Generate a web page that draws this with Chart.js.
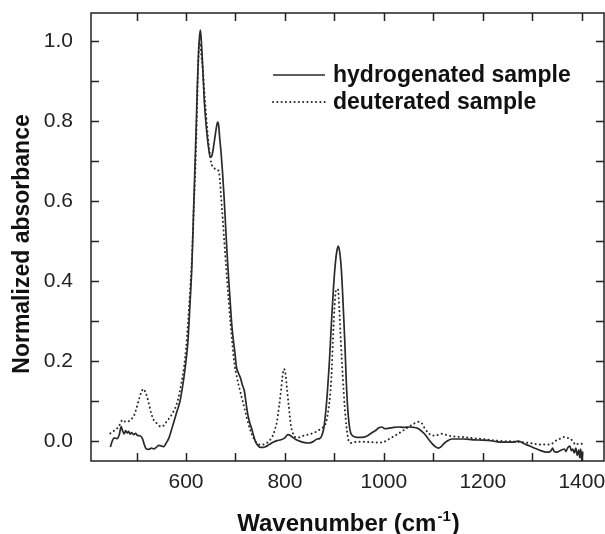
<!DOCTYPE html>
<html>
<head>
<meta charset="utf-8">
<script src="https://cdn.jsdelivr.net/npm/chart.js@4/dist/chart.umd.min.js"></script>
<style>
  body { margin: 0; background: #fff; }
  #wrap { width: 605px; height: 534px; }
</style>
</head>
<body>
<div id="wrap"><canvas id="irChart" width="605" height="534"></canvas></div>
<script>
// IR absorbance spectra, hydrogenated vs deuterated
const hydWavenumber = [447,451,455,460,465,469,472,475,478,481,484,487,490,494,498,502,507,512,516,520,525,530,535,540,545,550,555,560,565,570,576,582,588,592,596,600,604,608,612,615,618,621,623,625,627,629,631,634,637,640,643,646,649,652,655,658,661,664,666,668,671,674,677,680,683,686,689,692,695,699,702,706,710,714,718,722,725,729,733,737,741,746,751,756,761,768,776,784,792,800,806,811,816,822,831,840,847,853,859,865,870,875,879,883,886,890,894,898,902,905,908,911,914,917,921,924,927,930,933,938,945,955,965,975,984,990,996,1002,1010,1020,1030,1040,1051,1060,1068,1075,1082,1090,1098,1104,1110,1116,1121,1128,1137,1150,1161,1180,1200,1220,1239,1255,1266,1272,1278,1286,1294,1305,1317,1325,1333,1338,1341,1344,1349,1355,1360,1365,1368,1372,1376,1379,1382,1385,1388,1391,1394,1396,1398,1400,1402];
const hydAbsorbance = [-0.015,0.0,0.008,0.006,0.015,0.036,0.025,0.018,0.026,0.02,0.024,0.017,0.021,0.016,0.019,0.014,0.013,0.006,-0.01,-0.02,-0.021,-0.018,-0.02,-0.016,-0.011,-0.012,-0.014,-0.005,0.006,0.025,0.05,0.075,0.1,0.128,0.16,0.2,0.25,0.34,0.44,0.56,0.68,0.8,0.89,0.96,1.005,1.027,1.0,0.93,0.85,0.8,0.76,0.73,0.71,0.712,0.73,0.755,0.78,0.797,0.79,0.76,0.72,0.67,0.61,0.54,0.47,0.41,0.355,0.3,0.26,0.22,0.185,0.17,0.158,0.14,0.125,0.09,0.066,0.045,0.03,0.012,-0.003,-0.012,-0.016,-0.016,-0.014,-0.009,-0.003,0.001,0.003,0.008,0.016,0.014,0.009,0.004,-0.001,-0.004,-0.005,-0.004,0.0,0.005,0.006,0.015,0.035,0.08,0.125,0.2,0.295,0.38,0.445,0.475,0.487,0.47,0.43,0.36,0.25,0.15,0.08,0.04,0.02,0.012,0.009,0.009,0.012,0.02,0.027,0.033,0.035,0.031,0.032,0.034,0.035,0.034,0.035,0.034,0.032,0.026,0.018,0.005,-0.007,-0.014,-0.018,-0.014,-0.007,0.0,0.005,0.005,0.005,0.003,0.002,0.0,-0.003,-0.003,-0.002,0.0,-0.003,-0.008,-0.012,-0.018,-0.024,-0.027,-0.028,-0.024,-0.018,-0.026,-0.028,-0.025,-0.022,-0.02,-0.026,-0.016,-0.013,-0.024,-0.02,-0.03,-0.018,-0.036,-0.022,-0.042,-0.02,-0.048,-0.026];

const deutWavenumber = [447,455,462,468,471,476,482,488,494,499,504,509,514,518,522,526,530,535,541,547,551,556,561,567,573,579,584,590,596,600,604,608,612,616,620,623,625,627,629,631,634,638,643,647,651,655,659,663,666,668,671,674,678,682,686,690,694,698,702,706,712,718,723,729,733,737,741,745,752,761,767,772,777,781,784,788,792,795,798,801,804,808,812,816,820,828,839,850,863,872,879,884,888,891,894,897,900,903,907,910,913,917,921,925,929,935,941,955,972,986,996,1004,1012,1023,1035,1047,1059,1066,1072,1077,1082,1090,1098,1106,1114,1122,1129,1145,1161,1180,1200,1220,1239,1260,1278,1300,1317,1333,1342,1349,1357,1365,1371,1376,1382,1388,1394,1400];
const deutAbsorbance = [0.019,0.026,0.033,0.045,0.053,0.049,0.048,0.054,0.061,0.078,0.1,0.12,0.13,0.122,0.108,0.088,0.068,0.052,0.044,0.037,0.036,0.04,0.049,0.058,0.07,0.085,0.104,0.14,0.185,0.23,0.295,0.37,0.457,0.59,0.72,0.86,0.95,0.995,0.995,0.965,0.93,0.86,0.78,0.73,0.695,0.685,0.68,0.678,0.675,0.66,0.61,0.56,0.49,0.42,0.355,0.295,0.24,0.193,0.165,0.142,0.112,0.083,0.058,0.031,0.017,0.006,-0.002,-0.007,-0.009,-0.007,-0.001,0.006,0.018,0.034,0.049,0.085,0.125,0.16,0.18,0.17,0.134,0.085,0.04,0.02,0.01,0.009,0.014,0.017,0.023,0.03,0.037,0.05,0.08,0.11,0.16,0.25,0.33,0.375,0.38,0.33,0.25,0.16,0.083,0.03,0.0,-0.005,-0.003,-0.002,-0.003,-0.004,-0.004,0.0,0.006,0.014,0.023,0.033,0.042,0.047,0.048,0.044,0.033,0.02,0.014,0.014,0.018,0.017,0.014,0.011,0.01,0.007,0.005,0.002,0.0,-0.001,-0.003,-0.006,-0.009,-0.009,-0.005,0.002,0.006,0.01,0.008,0.006,0.0,-0.01,-0.006,-0.007];

const xLabels = [600, 800, 1000, 1200, 1400];
const yLabels = [0.0, 0.2, 0.4, 0.6, 0.8, 1.0];

const FONT = '"Liberation Sans", Arial, Helvetica, sans-serif';
const INK = '#222';

function toPoints(xs, ys) {
  return xs.map((x, i) => ({ x: x, y: ys[i] }));
}

// keep only ticks that sit on a whole step inside the axis range
function stepTicks(scale, step) {
  scale.ticks = scale.ticks.filter(t => {
    const k = t.value / step;
    return Math.abs(k - Math.round(k)) < 1e-6 && t.value >= scale.min && t.value <= scale.max;
  });
}

// frame, inward tick marks on all four sides, axis titles, legend
const framePlugin = {
  id: 'frame',
  afterDraw(chart) {
    const { ctx, chartArea: a, scales } = chart;
    const len = 8;
    ctx.save();
    ctx.strokeStyle = INK;
    ctx.lineWidth = 1.5;
    ctx.strokeRect(a.left, a.top, a.right - a.left, a.bottom - a.top);

    ctx.beginPath();
    scales.x.ticks.forEach(t => {
      const px = Math.round(scales.x.getPixelForValue(t.value)) + 0.5;
      ctx.moveTo(px, a.bottom); ctx.lineTo(px, a.bottom - len);
      ctx.moveTo(px, a.top); ctx.lineTo(px, a.top + len);
    });
    scales.y.ticks.forEach(t => {
      const py = Math.round(scales.y.getPixelForValue(t.value)) + 0.5;
      ctx.moveTo(a.left, py); ctx.lineTo(a.left + len, py);
      ctx.moveTo(a.right, py); ctx.lineTo(a.right - len, py);
    });
    ctx.stroke();

    ctx.fillStyle = '#111';

    // y axis title
    ctx.save();
    ctx.translate(23, 244);
    ctx.rotate(-Math.PI / 2);
    ctx.font = 'bold 23px ' + FONT;
    ctx.textAlign = 'center';
    ctx.textBaseline = 'middle';
    ctx.fillText('Normalized absorbance', 0, 0);
    ctx.restore();

    // x axis title: Wavenumber (cm-1) with raised exponent
    ctx.textBaseline = 'alphabetic';
    const big = 'bold 24px ' + FONT;
    const small = 'bold 15px ' + FONT;
    const p1 = 'Wavenumber (cm', p2 = '-1', p3 = ')';
    ctx.font = big;
    const w1 = ctx.measureText(p1).width, w3 = ctx.measureText(p3).width;
    ctx.font = small;
    const w2 = ctx.measureText(p2).width;
    const x0 = (a.left + a.right) / 2 - (w1 + w2 + w3) / 2;
    const base = 531;
    ctx.font = big; ctx.textAlign = 'left';
    ctx.fillText(p1, x0, base);
    ctx.font = small;
    ctx.fillText(p2, x0 + w1 + 1, base - 10);
    ctx.font = big;
    ctx.fillText(p3, x0 + w1 + w2 + 2, base);

    // legend
    const rows = [75, 102];
    chart.data.datasets.forEach((ds, i) => {
      const y = rows[i];
      ctx.save();
      ctx.strokeStyle = ds.borderColor;
      ctx.lineWidth = ds.borderWidth;
      ctx.lineCap = ds.borderCapStyle || 'butt';
      ctx.setLineDash(ds.borderDash || []);
      ctx.beginPath();
      ctx.moveTo(273, y); ctx.lineTo(325, y);
      ctx.stroke();
      ctx.restore();
      ctx.font = 'bold 23px ' + FONT;
      ctx.textBaseline = 'middle';
      ctx.fillStyle = '#111';
      ctx.fillText(ds.label, 333, y + 1);
    });
    ctx.restore();
  }
};

new Chart(document.getElementById('irChart'), {
  type: 'line',
  data: {
    datasets: [
      {
        label: 'hydrogenated sample',
        data: toPoints(hydWavenumber, hydAbsorbance),
        borderColor: '#2a2a2a',
        borderWidth: 1.7,
        pointRadius: 0,
        cubicInterpolationMode: 'monotone'
      },
      {
        label: 'deuterated sample',
        data: toPoints(deutWavenumber, deutAbsorbance),
        borderColor: '#2a2a2a',
        borderWidth: 2,
        borderDash: [0.1, 4.2],
        borderCapStyle: 'round',
        pointRadius: 0,
        cubicInterpolationMode: 'monotone'
      }
    ]
  },
  options: {
    responsive: false,
    animation: false,
    events: [],
    layout: { padding: { top: 13, right: 1, left: 0, bottom: 0 } },
    plugins: { legend: { display: false }, tooltip: { enabled: false } },
    scales: {
      x: {
        type: 'linear',
        min: 408,
        max: 1445,
        afterFit: s => { s.height = 73; s.paddingLeft = 0; s.paddingRight = 0; },
        afterBuildTicks: s => stepTicks(s, 100),
        grid: { display: false, drawTicks: false },
        border: { display: false },
        ticks: {
          stepSize: 100,
          includeBounds: false,
          padding: 9,
          color: INK,
          font: { family: FONT, size: 21 },
          maxRotation: 0,
          autoSkip: false,
          callback: v => xLabels.includes(v) ? String(v) : ''
        }
      },
      y: {
        min: -0.05,
        max: 1.07,
        afterFit: s => { s.width = 91; s.paddingTop = 0; s.paddingBottom = 0; },
        afterBuildTicks: s => stepTicks(s, 0.1),
        grid: { display: false, drawTicks: false },
        border: { display: false },
        ticks: {
          stepSize: 0.1,
          includeBounds: false,
          padding: 18,
          color: INK,
          font: { family: FONT, size: 21 },
          autoSkip: false,
          callback: v => yLabels.some(l => Math.abs(l - v) < 1e-6) ? Math.abs(v).toFixed(1) : ''
        }
      }
    }
  },
  plugins: [framePlugin]
});
</script>
</body>
</html>
